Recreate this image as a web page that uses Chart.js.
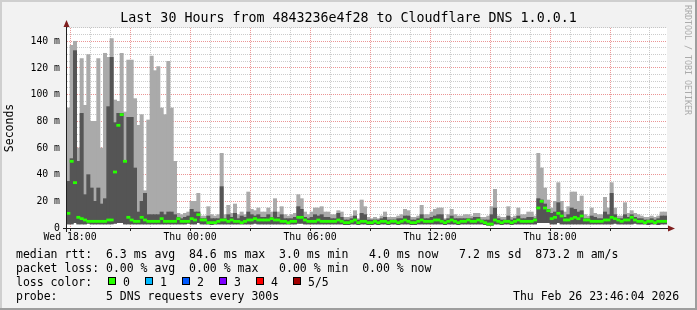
<!DOCTYPE html>
<html><head><meta charset="utf-8">
<script src="https://cdn.jsdelivr.net/npm/chart.js@4"></script>
<style>
html,body{margin:0;padding:0;background:#f2f2f2;}
#wrap{position:relative;width:697px;height:310px;overflow:hidden;}
canvas{position:absolute;left:0;top:0;}
.tx{position:absolute;font-family:'DejaVu Sans Mono',monospace;font-size:11.5px;line-height:14px;white-space:pre;color:#000;}
.bx{position:absolute;width:6px;height:6px;border:1px solid #000;top:277px;}
#wm{position:absolute;left:684px;top:5px;writing-mode:vertical-rl;font-family:'DejaVu Sans Mono',monospace;font-size:8.3px;line-height:8px;color:#ababab;white-space:pre;}
</style></head><body>
<div id="wrap">
<canvas id="c" width="697" height="310"></canvas>
<div class="tx" style="left:16px;top:247px">median rtt:  6.3 ms avg  84.6 ms max  3.0 ms min   4.0 ms now   7.2 ms sd  873.2 m am/s</div>
<div class="tx" style="left:16px;top:261px">packet loss: 0.00 % avg  0.00 % max   0.00 % min  0.00 % now</div>
<div class="tx" style="left:16px;top:275px">loss color:</div>
<span class="bx" style="left:108px;background:#26ff00"></span><div class="tx" style="left:123px;top:275px">0</div>
<span class="bx" style="left:145px;background:#00b8ff"></span><div class="tx" style="left:160px;top:275px">1</div>
<span class="bx" style="left:182px;background:#0059ff"></span><div class="tx" style="left:197px;top:275px">2</div>
<span class="bx" style="left:219px;background:#7e00ff"></span><div class="tx" style="left:234px;top:275px">3</div>
<span class="bx" style="left:256px;background:#ff0000"></span><div class="tx" style="left:271px;top:275px">4</div>
<span class="bx" style="left:293px;background:#a10000"></span><div class="tx" style="left:308px;top:275px">5/5</div>
<div class="tx" style="left:16px;top:289px">probe:       5 DNS requests every 300s</div>
<div class="tx" style="left:513px;top:289px">Thu Feb 26 23:46:04 2026</div>
<div id="wm">RRDTOOL / TOBI OETIKER</div>
</div>
<script>
// time in hours relative to Wed 18:00
const windowStart = -0.15;
const windowEnd = 29.85;
const sampleStart = -5/60;
const sampleStep = 10/60;

const maxRtt = [
 90,137,140,60,127,92,130,80,80,127,60,131,128,142,96,95,131,87,126,126,97,
 77,85,28,81,129,118,121,90,85,125,90,50,11,10,11,12,20,20,26,
 9,9,16,10,9,10,56,10,17,11,18,10,12,10,27,14,13,15,12,12,15,12,22,12,16,10,9,10,11,25,22,12,10,12,15,15,16,12,12,10,
 10,13,12,8,8,9,13,7,21,16,8,7,8,7,9,12,8,8,8,9,10,14,13,8,8,9,17,10,10,12,14,15,15,7,10,14,10,9,9,10,
 10,9,11,11,8,8,9,16,29,9,8,8,16,8,9,15,10,10,12,12,9,56,45,30,21,15,20,34,20,12,16,27,27,20,24,10,9,15,11,
 10,10,23,15,34,15,9,9,19,11,13,11,10,9,8,8,9,8,9,12,12
];
const upperRtt = [
 35,52,133,50,86,25,40,30,20,30,18,22,91,128,79,86,86,50,83,83,45,
 12,20,26,10,10,10,10,12,10,12,12,10,8,7,8,9,14,12,12,
 7,7,9,7,7,7,31,7,10,8,11,7,9,8,12,10,9,10,8,8,10,8,12,8,10,7,7,7,8,16,14,8,7,8,10,9,10,8,8,7,
 7,11,8,6,6,7,9,6,11,10,6,6,6,6,7,8,6,6,6,7,7,9,9,6,6,7,10,7,7,8,9,10,10,6,7,9,7,7,7,7,
 7,7,8,8,6,6,6,10,15,7,6,6,9,6,7,9,7,7,8,8,7,22,21,18,14,11,12,19,13,8,10,15,14,12,13,7,7,9,8,
 7,7,12,10,26,10,7,7,10,8,10,8,7,7,6,6,7,6,7,9,9
];
const medianRtt = [
 11,50,34,8,7,6,5,5,5,5,5,5,6,6,42,77,85,50,8,6,5,
 5,8,6,5,5,5,5,7,5,5,5,5,7,5,5,5,7,6,10,
 6,6,4,4,4,5,6,6,5,6,5,5,4,5,6,6,7,6,6,6,6,7,6,6,5,5,4,5,5,8,8,6,5,5,5,6,5,5,5,5,
 5,6,5,4,4,5,6,4,5,5,4,4,5,4,5,5,4,5,5,4,5,6,5,4,4,5,6,5,5,5,6,6,5,4,5,6,5,4,5,5,
 6,5,5,6,5,4,3,3,6,5,4,5,5,4,5,6,5,5,5,5,6,15,20,15,13,7,8,11,9,6,6,7,8,7,9,6,6,5,5,
 5,5,6,6,8,7,6,5,6,6,8,6,5,5,4,5,5,4,5,5,5
];
const minRtt = [
 3,3,4,3,3,3,3.5,3,3,3,3,3,3,3,3.5,4,4,3,3,3,
 3,3,3,3,3,3,3,3,3,3,3,3,3,3,3,3,3.5,3,3,4,
 3,3,3,2.5,3,3,3,3,3,3,3,3,3,3,3,3,3.5,3,3,3,
 3,3,3,3,3,3,3,3,3,3.5,3.5,3,3,3,3,3,3,3,3,3,
 3,3,3,2.5,2.5,3,3,2.5,3,3,2.5,2.5,3,2.5,3,3,2.5,3,3,2.5,
 3,3,3,2.5,2.5,3,3,3,3,3,3,3,3,2.5,3,3,3,2.5,3,3,
 3,3,3,3,3,2.5,2,2,3,3,2.5,3,3,2.5,3,3,3,3,3,3,
 3,4,4,4,4,3,3,4,3,3,3,3,3,3,3,3,3,3,3,3,
 3,3,3,3,3.5,3,3,3,3,3,3.5,3,3,3,2.5,3,3,2.5,3,3
];
const xTickLabels = ['Wed 18:00','Thu 00:00','Thu 06:00','Thu 12:00','Thu 18:00'];
const yTickLabels = ['0','20 m','40 m','60 m','80 m','100 m','120 m','140 m'];
const titleText = 'Last 30 Hours from 4843236e4f28 to Cloudflare DNS 1.0.0.1';

const sampleTimes = maxRtt.map((_, i) => sampleStart + i * sampleStep);
const hourTicks = Array.from({length: 30}, (_, h) => h);
const medianHalf = 0.8; // half thickness of the median mark, in value units

const MINOR = 'rgba(143,143,143,0.45)';
const MAJOR = 'rgba(222,79,79,0.6)';
const AXIS = '#1f1f1f';

Chart.defaults.font.family = "'DejaVu Sans Mono', monospace";
Chart.defaults.color = '#000';

const frame = {
  id: 'frame',
  beforeDraw(chart) {
    const {ctx, chartArea: a, width: w, height: h} = chart;
    ctx.save();
    ctx.fillStyle = '#f2f2f2'; ctx.fillRect(0, 0, w, h);
    ctx.fillStyle = '#cfcfcf'; ctx.fillRect(0, 0, w, 2); ctx.fillRect(0, 0, 2, h);
    ctx.fillStyle = '#9e9e9e'; ctx.fillRect(0, h - 2, w, 2); ctx.fillRect(w - 2, 0, 2, h);
    ctx.fillStyle = '#ffffff'; ctx.fillRect(a.left, a.top, a.right - a.left, a.bottom - a.top);
    ctx.restore();
  },
  afterDraw(chart) {
    const {ctx, chartArea: a} = chart;
    ctx.save();
    ctx.strokeStyle = AXIS; ctx.lineWidth = 1;
    ctx.beginPath();
    ctx.moveTo(a.left - 0.5, a.bottom + 4); ctx.lineTo(a.left - 0.5, a.top - 2);
    ctx.moveTo(a.left - 4, a.bottom + 0.5); ctx.lineTo(a.right + 2, a.bottom + 0.5);
    ctx.stroke();
    ctx.fillStyle = '#801f1f';
    ctx.beginPath();
    ctx.moveTo(a.left - 3.5, a.top - 1); ctx.lineTo(a.left + 2.5, a.top - 1); ctx.lineTo(a.left - 0.5, a.top - 8);
    ctx.closePath(); ctx.fill();
    ctx.beginPath();
    ctx.moveTo(a.right + 1, a.bottom - 2.5); ctx.lineTo(a.right + 1, a.bottom + 3.5); ctx.lineTo(a.right + 8, a.bottom + 0.5);
    ctx.closePath(); ctx.fill();
    ctx.restore();
  }
};

new Chart(document.getElementById('c'), {
  type: 'bar',
  data: {
    datasets: [
      {
        label: 'smoke outer',
        data: sampleTimes.map((t, i) => ({x: t, y: [minRtt[i], maxRtt[i]]})),
        backgroundColor: '#aaaaaa', borderWidth: 0,
        barPercentage: 1, categoryPercentage: 1, grouped: false, order: 3
      },
      {
        label: 'smoke inner',
        data: sampleTimes.map((t, i) => ({x: t, y: [minRtt[i], upperRtt[i]]})),
        backgroundColor: '#555555', borderWidth: 0,
        barPercentage: 1, categoryPercentage: 1, grouped: false, order: 2
      },
      {
        label: 'median rtt',
        data: sampleTimes.map((t, i) => ({x: t, y: [medianRtt[i] - medianHalf, medianRtt[i] + medianHalf]})),
        backgroundColor: '#26ff00', borderWidth: 0,
        barPercentage: 1, categoryPercentage: 1, grouped: false, order: 1
      }
    ]
  },
  options: {
    responsive: false, animation: false, devicePixelRatio: 1, events: [],
    layout: {padding: {left: 0, top: 0, right: 0, bottom: 0}, autoPadding: false},
    plugins: {
      legend: {display: false},
      tooltip: {enabled: false},
      title: {
        display: true, text: titleText, color: '#000',
        font: {size: 13.3, weight: 'normal'},
        padding: {top: 11, bottom: 1}
      }
    },
    scales: {
      x: {
        type: 'linear', min: windowStart, max: windowEnd,
        offset: false, z: 1,
        afterBuildTicks: s => { s.ticks = hourTicks.map(v => ({value: v})); },
        afterFit: s => { s.height = 82; },
        ticks: {
          autoSkip: false, maxRotation: 0, minRotation: 0,
          padding: 1, color: '#000', font: {size: 9.8},
          callback: v => (v % 6 === 0 ? xTickLabels[v / 6] : '')
        },
        grid: {
          offset: false, lineWidth: 1,
          color: c => (c.tick && c.tick.value % 3 === 0 ? MAJOR : MINOR),
          drawTicks: true, tickLength: 3,
          tickColor: c => (c.tick && c.tick.value % 3 === 0 ? AXIS : 'rgba(0,0,0,0)'),
          tickBorderDash: []
        },
        border: {display: false, dash: [1, 1]}
      },
      y: {
        type: 'linear', min: 0, max: 150, z: 1,
        afterFit: s => { s.width = 67; },
        ticks: {
          stepSize: 5, autoSkip: false, padding: 7, color: '#000', font: {size: 9.8},
          callback: v => (v % 20 === 0 ? yTickLabels[v / 20] : '')
        },
        grid: {
          lineWidth: 1, drawTicks: false,
          color: c => (c.tick && c.tick.value % 20 === 0 ? MAJOR : MINOR)
        },
        border: {display: false, dash: [1, 1]},
        title: {
          display: true, text: 'Seconds', color: '#000',
          font: {size: 11.5}, padding: {top: 3, bottom: 0}
        }
      },
      yRight: {
        type: 'linear', position: 'right', min: 0, max: 150,
        afterFit: s => { s.width = 30; },
        ticks: {display: false},
        grid: {display: false, drawTicks: false},
        border: {display: false}
      }
    }
  },
  plugins: [frame]
});
</script>
</body></html>
